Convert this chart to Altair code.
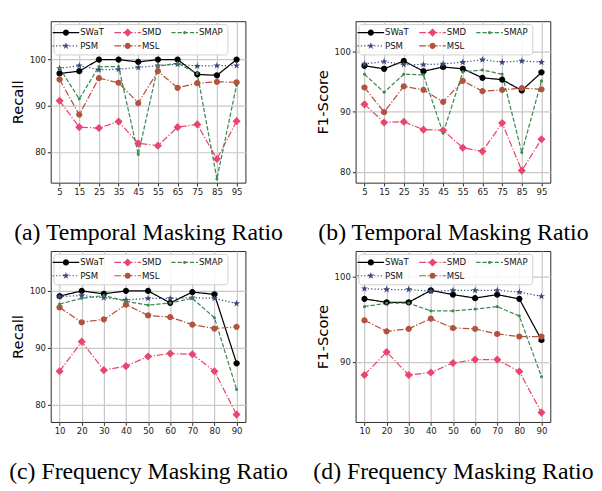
import math
import altair as alt
import pandas as pd

# ---------------- data ----------------
SERIES = ["SWaT", "SMD", "SMAP", "PSM", "MSL"]          # legend order (3 columns, row-major)
DRAW_ORDER = ["SWaT", "PSM", "SMD", "MSL", "SMAP"]
COLORS = ["#000000", "#e8466f", "#3c8a52", "#3a4a7d", "#b3523d"]

temporal_ratio = [5, 15, 25, 35, 45, 55, 65, 75, 85, 95]
freq_ratio = [10, 20, 30, 40, 50, 60, 70, 80, 90]

# (a) Temporal masking ratio - Recall
a_swat = [97.0, 97.5, 100.0, 100.0, 99.5, 100.0, 100.0, 96.8, 96.6, 100.0]
a_psm = [98.1, 98.7, 97.8, 97.9, 98.3, 98.7, 99.0, 98.6, 98.7, 98.7]
a_smd = [91.1, 85.4, 85.2, 86.6, 81.9, 81.4, 85.4, 86.0, 78.5, 86.7]
a_msl = [95.7, 88.1, 96.0, 95.0, 90.6, 97.5, 93.9, 94.9, 95.2, 95.1]
a_smap = [98.2, 91.5, 98.5, 98.5, 79.5, 98.6, 99.2, 97.0, 74.2, 94.5]

# (b) Temporal masking ratio - F1-Score
b_swat = [97.6, 97.1, 98.4, 96.7, 97.4, 97.1, 95.6, 95.3, 93.5, 96.5]
b_psm = [97.9, 98.3, 97.8, 97.8, 97.9, 98.2, 98.6, 98.2, 98.4, 98.2]
b_smd = [91.2, 88.2, 88.3, 87.0, 86.9, 84.0, 83.4, 88.1, 80.2, 85.4]
b_msl = [94.0, 89.9, 94.2, 93.6, 91.6, 95.1, 93.4, 93.6, 93.9, 93.7]
b_smap = [96.2, 93.2, 96.2, 96.1, 86.4, 96.6, 96.9, 96.2, 83.2, 95.1]

# (c) Frequency masking ratio - Recall
c_swat = [99.1, 100.0, 99.5, 100.0, 100.0, 97.9, 99.8, 99.4, 87.3]
c_psm = [99.0, 99.2, 98.8, 98.4, 98.7, 98.7, 98.8, 98.7, 97.8]
c_smd = [85.9, 91.1, 86.1, 86.8, 88.5, 89.0, 88.9, 85.9, 78.3]
c_msl = [97.1, 94.5, 95.0, 97.6, 95.7, 95.4, 94.1, 93.4, 93.7]
c_smap = [97.7, 98.7, 99.2, 98.2, 97.5, 97.9, 98.7, 95.3, 82.7]

# (d) Frequency masking ratio - F1-Score
d_swat = [97.4, 97.0, 97.0, 98.4, 97.9, 97.5, 97.9, 97.4, 92.6]
d_psm = [98.6, 98.5, 98.5, 98.3, 98.4, 98.4, 98.4, 98.2, 97.7]
d_smd = [88.5, 91.2, 88.5, 88.8, 89.9, 90.3, 90.3, 88.9, 84.1]
d_msl = [94.9, 93.6, 93.9, 95.1, 94.0, 93.9, 93.3, 93.0, 93.0]
d_smap = [96.5, 96.9, 96.9, 96.0, 96.0, 96.2, 96.5, 95.4, 88.3]


# ---------------- marker / legend glyphs (unit = sqrt(size)/2 px) ----------------
def fmt(v):
    return f"{v:.3f}".rstrip("0").rstrip(".")


def polygon(pts):
    return "M" + "L".join(f"{fmt(px)},{fmt(py)}" for px, py in pts) + "Z"


def circle(r, n=16):
    return polygon([(r * math.cos(-math.pi / 2 + 2 * math.pi * k / n),
                     r * math.sin(-math.pi / 2 + 2 * math.pi * k / n)) for k in range(n)])


def star(ro, ri):
    pts = []
    for k in range(10):
        r = ro if k % 2 == 0 else ri
        a = -math.pi / 2 + math.pi * k / 5
        pts.append((r * math.cos(a), r * math.sin(a)))
    return polygon(pts)


MARKERS = {
    "SWaT": circle(0.65),
    "SMD": polygon([(0, -0.85), (0.85, 0), (0, 0.85), (-0.85, 0)]),
    "SMAP": circle(0.32),
    "PSM": star(0.78, 0.31),
    "MSL": circle(0.65),
}
DASHES = {                      # px on/off patterns
    "SWaT": [1, 0],
    "SMD": [7, 2, 1.3, 2],
    "SMAP": [4.5, 2],
    "PSM": [1.3, 2.2],
    "MSL": [7, 2, 1.3, 2],
}
UNIT = 5.0      # px per path unit for size=100
HALF_LEN = 2.8  # legend line half length (units)
THICK = 0.13    # half thickness (units)


def dashed_line(pattern):
    if pattern[1] == 0:
        return polygon([(-HALF_LEN, -THICK), (HALF_LEN, -THICK),
                        (HALF_LEN, THICK), (-HALF_LEN, THICK)])
    pos, i, out = -HALF_LEN, 0, ""
    while pos < HALF_LEN:
        on = pattern[i % len(pattern)] / UNIT
        off = pattern[(i + 1) % len(pattern)] / UNIT
        end = min(pos + on, HALF_LEN)
        out += polygon([(pos, -THICK), (end, -THICK), (end, THICK), (pos, THICK)])
        pos = end + off
        i += 2
    return out


SYMBOLS = {s: dashed_line(DASHES[s]) + MARKERS[s] for s in SERIES}


def legend_expr(mapping):
    expr = f"'{mapping[SERIES[-1]]}'"
    for s in reversed(SERIES[:-1]):
        expr = f"datum.value === '{s}' ? '{mapping[s]}' : " + expr
    return expr


SYMBOL_EXPR = legend_expr(SYMBOLS)
COLOR_EXPR = legend_expr(dict(zip(SERIES, COLORS)))
MK = ["m_" + s for s in SERIES]      # separate keys so marker scales never join the legend
DK = ["d_" + s for s in SERIES]


def panel(xs, lists, xdomain, ydomain, yticks, ytitle, caption, height):
    rows = []
    for s in DRAW_ORDER:
        for xv, yv in zip(xs, lists[s]):
            rows.append({"ratio": xv, "value": yv, "series": s,
                         "mk": "m_" + s, "dk": "d_" + s})
    df = pd.DataFrame(rows)
    base = alt.Chart(df)
    x = alt.X("ratio:Q", scale=alt.Scale(domain=xdomain, nice=False, zero=False),
              axis=alt.Axis(values=xs, title=caption))
    y = alt.Y("value:Q", scale=alt.Scale(domain=ydomain, nice=False, zero=False),
              axis=alt.Axis(values=yticks, title=ytitle))
    lines = base.mark_line(strokeWidth=1.3, clip=True).encode(
        x=x, y=y,
        color=alt.Color("series:N", scale=alt.Scale(domain=SERIES, range=COLORS),
                        legend=alt.Legend(
            title=None, orient="none", legendX=3, legendY=3, columns=3,
            direction="horizontal",
            symbolType={"expr": SYMBOL_EXPR},
            symbolFillColor={"expr": COLOR_EXPR},
            symbolSize=100, symbolStrokeWidth=0,
            symbolOffset=4, labelOffset=10,
            labelFont="DejaVu Sans", labelFontSize=9, labelColor="#111",
            rowPadding=4, columnPadding=10, padding=4,
            strokeColor="#d0d0d0", cornerRadius=3,
            fillColor="rgba(255,255,255,0.85)",
        )),
        strokeDash=alt.StrokeDash("dk:N", scale=alt.Scale(
            domain=DK, range=[DASHES[s] for s in SERIES]), legend=None),
    )
    points = base.mark_point(filled=True, size=100, opacity=1, clip=True).encode(
        x=x, y=y,
        fill=alt.Fill("mk:N", scale=alt.Scale(domain=MK, range=COLORS), legend=None),
        shape=alt.Shape("mk:N", scale=alt.Scale(
            domain=MK, range=[MARKERS[s] for s in SERIES]), legend=None),
    )
    return alt.layer(lines, points).properties(width=205, height=height)


def pack(lists):
    return dict(zip(["SWaT", "PSM", "SMD", "MSL", "SMAP"], lists))


pa = panel(temporal_ratio, pack([a_swat, a_psm, a_smd, a_msl, a_smap]), [0.5, 99.5],
           [73.4, 108.3], [80, 90, 100], "Recall", "(a) Temporal Masking Ratio", 170)
pb = panel(temporal_ratio, pack([b_swat, b_psm, b_smd, b_msl, b_smap]), [0.5, 99.5],
           [78.2, 105.0], [80, 90, 100], "F1-Score", "(b) Temporal Masking Ratio", 170)
pc = panel(freq_ratio, pack([c_swat, c_psm, c_smd, c_msl, c_smap]), [6, 94],
           [77.0, 107.0], [80, 90, 100], "Recall", "(c) Frequency Masking Ratio", 180)
pd_ = panel(freq_ratio, pack([d_swat, d_psm, d_smd, d_msl, d_smap]), [6, 94],
            [83.0, 103.0], [90, 100], "F1-Score", "(d) Frequency Masking Ratio", 180)


def indep(ch):
    return ch.resolve_scale(color="independent", strokeDash="independent",
                            shape="independent", fill="independent",
                            x="independent", y="independent"
                            ).resolve_legend(color="independent")


row1 = indep(alt.hconcat(pa, pb, spacing=33))
row2 = indep(alt.hconcat(pc, pd_, spacing=25))

chart = indep(alt.vconcat(row1, row2, spacing=6)).properties(
    padding=0
).configure_view(
    stroke="#222", strokeWidth=1
).configure_axis(
    labelFont="DejaVu Sans", labelFontSize=9, labelColor="#222",
    tickColor="#222", tickSize=3.5, tickWidth=1, domain=False,
    gridColor="#c8c8c8", gridWidth=1.3, labelPadding=2,
    titleFontWeight="normal", titleColor="#000",
).configure_axisX(
    titleFont="Liberation Serif", titleFontSize=25, titlePadding=25,
).configure_axisY(
    titleFont="DejaVu Sans", titleFontSize=15.5, titlePadding=4,
)

chart.save("out.html", embed_options={"renderer": "svg", "actions": False})
